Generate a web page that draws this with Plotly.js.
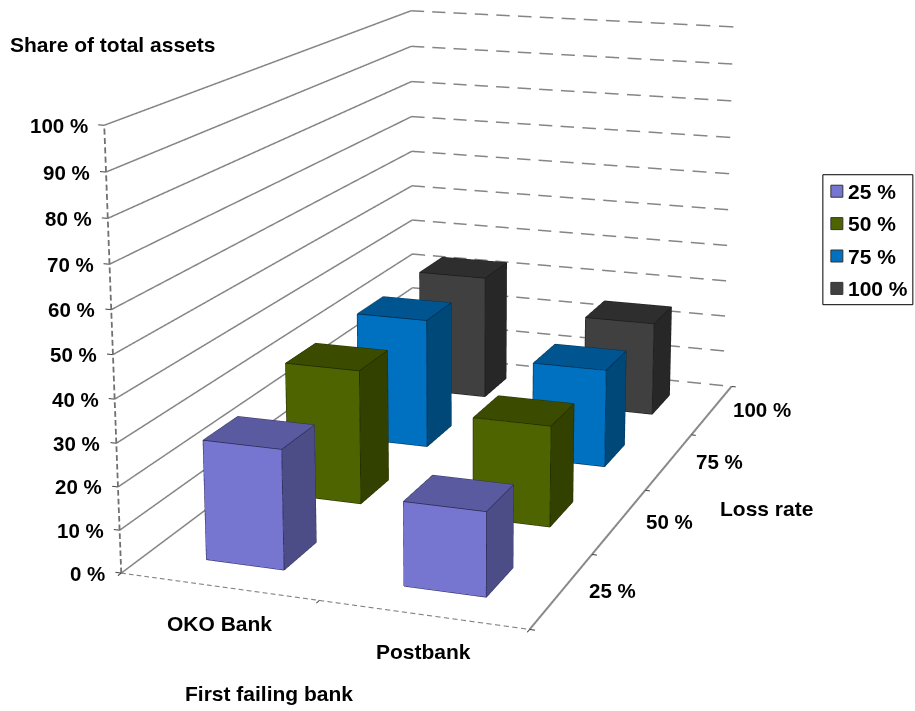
<!DOCTYPE html>
<html><head><meta charset="utf-8"><script src="https://cdn.plot.ly/plotly-3.0.1.min.js"></script>
<style>html,body{margin:0;padding:0;overflow:hidden;width:915px;height:711px;background:#fff}#p{position:absolute}</style></head>
<body><div id="p"></div><script>
const banks=['OKO Bank','Postbank'];
const lossRates=['25 %','50 %','75 %','100 %'];
const shareOKO=[28,33,33.4,33.4];
const sharePost=[19.4,24.5,25,25];
const shareTicks=[0,10,20,30,40,50,60,70,80,90,100];
const frontColors=['#7676d0','#4d6400','#0070c0','#404040'];
const topColors=['#5a5aa0','#3b4c00','#00548f','#2e2e2e'];
const sideColors=['#4c4c86','#324100','#004878','#272727'];
const edgeColors=['#2a2a55','#1f2900','#002a4a','#1a1a1a'];
const barHalf=0.2;
const cam={eye:{x:1.864,y:-5.259,z:1.426},boxX:0.943,boxY:1.817,f:2368.693,cx:462.094,cy:273.795};

const H=2*cam.f*Math.tan(Math.PI/8),W=H*915/711,L=cam.cx-W/2,T=cam.cy-H/2;
const el=document.getElementById('p');el.style.left=L+'px';el.style.top=T+'px';el.style.width=W+'px';el.style.height=H+'px';
const px=(x)=>(x-L)/W, py=(y)=>1-(y-T)/H;
const tr=[];
function ln(o,col,w){tr.push({type:'scatter3d',mode:'lines',x:o.x,y:o.y,z:o.z,line:{color:col,width:w},hoverinfo:'skip',showlegend:false});}
const mk=()=>({x:[],y:[],z:[]});
const seg=(o,a,c)=>{o.x.push(a[0],c[0],null);o.y.push(a[1],c[1],null);o.z.push(a[2],c[2],null);};
function dashed(o,a,c,n,on){for(let i=0;i<n;i++){const t0=i/n,t1=(i+on)/n;seg(o,a.map((v,k)=>v+(c[k]-v)*t0),a.map((v,k)=>v+(c[k]-v)*t1));}}
const g=mk(),b=mk(),tk=mk(),fr=mk(),ax=mk(),rt=mk();
shareTicks.forEach(v=>{seg(g,[0,0,v],[0,4,v]);dashed(b,[0,4,v],[2,4,v],15,.62);seg(tk,[0,0,v],[-.03,0,v]);});
[0,1,2].forEach(i=>seg(tk,[i,0,0],[i,-.035,0]));
[0,1,2,3,4].forEach(i=>seg(tk,[2,i,0],[2.025,i,0]));
dashed(fr,[0,0,0],[2,0,0],50,.6);dashed(ax,[0,0,0],[0,0,100],50,.65);seg(rt,[2,0,0],[2,4,0]);
ln(g,'#858585',3);ln(b,'#858585',3);ln(fr,'#808080',2.2);ln(rt,'#8a8a8a',4);ln(ax,'#707070',3.6);ln(tk,'#404040',2);
function addBar(bi,li,v){const x0=bi+.5-barHalf,x1=bi+.5+barHalf,y0=li+.5-barHalf,y1=li+.5+barHalf;
 const xs=[x0,x1,x1,x0,x0,x1,x1,x0],ys=[y0,y0,y1,y1,y0,y0,y1,y1],zs=[0,0,0,0,v,v,v,v];
 const I=[0,0,1,1,4,4,3,3,0,0,2,2],J=[1,5,2,6,5,6,0,4,1,2,3,7],K=[5,4,6,5,6,7,4,7,2,3,7,6];
 const fc=[frontColors[li],frontColors[li],sideColors[li],sideColors[li],topColors[li],topColors[li],sideColors[li],sideColors[li],sideColors[li],sideColors[li],sideColors[li],sideColors[li]];
 tr.push({type:'mesh3d',x:xs,y:ys,z:zs,i:I,j:J,k:K,facecolor:fc,flatshading:true,lighting:{ambient:1,diffuse:0,specular:0,roughness:1,fresnel:0},hoverinfo:'skip',showlegend:false,showscale:false});
 const e=mk();const E=[[0,1],[1,2],[0,4],[1,5],[2,6],[4,5],[5,6],[6,7],[7,4]];
 E.forEach(q=>seg(e,[xs[q[0]],ys[q[0]],zs[q[0]]],[xs[q[1]],ys[q[1]],zs[q[1]]]));
 ln(e,edgeColors[li],1.6);}
[shareOKO,sharePost].forEach((arr,bi)=>arr.forEach((v,li)=>addBar(bi,li,v)));
const F={family:'"Liberation Sans",Arial,sans-serif',size:21,color:'#000'};
const FT={family:F.family,size:20.5,color:'#000'};
const FB=t=>'<b>'+t+'</b>';
const sa=[];
shareTicks.forEach(v=>sa.push({x:0,y:0,z:v,text:FB(v+' %'),showarrow:false,xanchor:'right',yanchor:'middle',xshift:-14,font:FT}));
banks.forEach((t,i)=>sa.push({x:i+.5,y:0,z:0,text:FB(t),showarrow:false,xanchor:'center',yanchor:'middle',xshift:1,yshift:-37,font:F}));
lossRates.forEach((t,i)=>sa.push({x:2,y:i+.5,z:0,text:FB(t),showarrow:false,xanchor:'center',yanchor:'middle',xshift:50,yshift:0,font:FT}));
const an=[{text:'Share of total assets',x:9,y:44.5,xa:'left'},{text:'First failing bank',x:270,y:693,xa:'center'},{text:'Loss rate',x:767,y:508,xa:'center'}].map(a=>({xref:'paper',yref:'paper',x:px(a.x),y:py(a.y),text:FB(a.text),showarrow:false,xanchor:a.xa,yanchor:'middle',font:F}));
const sh=[{type:'rect',xref:'paper',yref:'paper',x0:px(823.5),x1:px(913.5),y0:py(174.5),y1:py(304.5),line:{color:'#000',width:1},fillcolor:'#fff'}];
lossRates.forEach((t,i)=>{const yc=191+i*32.4;sh.push({type:'rect',xref:'paper',yref:'paper',x0:px(831.5),x1:px(843.5),y0:py(yc-6),y1:py(yc+6),line:{color:'#333',width:1},fillcolor:frontColors[i]});
 an.push({xref:'paper',yref:'paper',x:px(847),y:py(yc),text:FB(t),showarrow:false,xanchor:'left',yanchor:'middle',font:F});});
Plotly.newPlot(el,tr,{width:W,height:H,margin:{l:0,r:0,t:0,b:0},paper_bgcolor:'#fff',showlegend:false,shapes:sh,annotations:an,hovermode:false,
 scene:{domain:{x:[0,1],y:[0,1]},aspectmode:'manual',aspectratio:{x:cam.boxX*1.1,y:cam.boxY*1.1,z:1},annotations:sa,bgcolor:'rgba(0,0,0,0)',
 camera:{eye:cam.eye,center:{x:0,y:0,z:0},up:{x:0,y:0,z:1},projection:{type:'perspective'}},
 xaxis:{range:[-.1,2.1],visible:false},yaxis:{range:[-.2,4.2],visible:false},zaxis:{range:[0,100],visible:false}}},{displayModeBar:false,plotGlPixelRatio:2});
</script></body></html>
